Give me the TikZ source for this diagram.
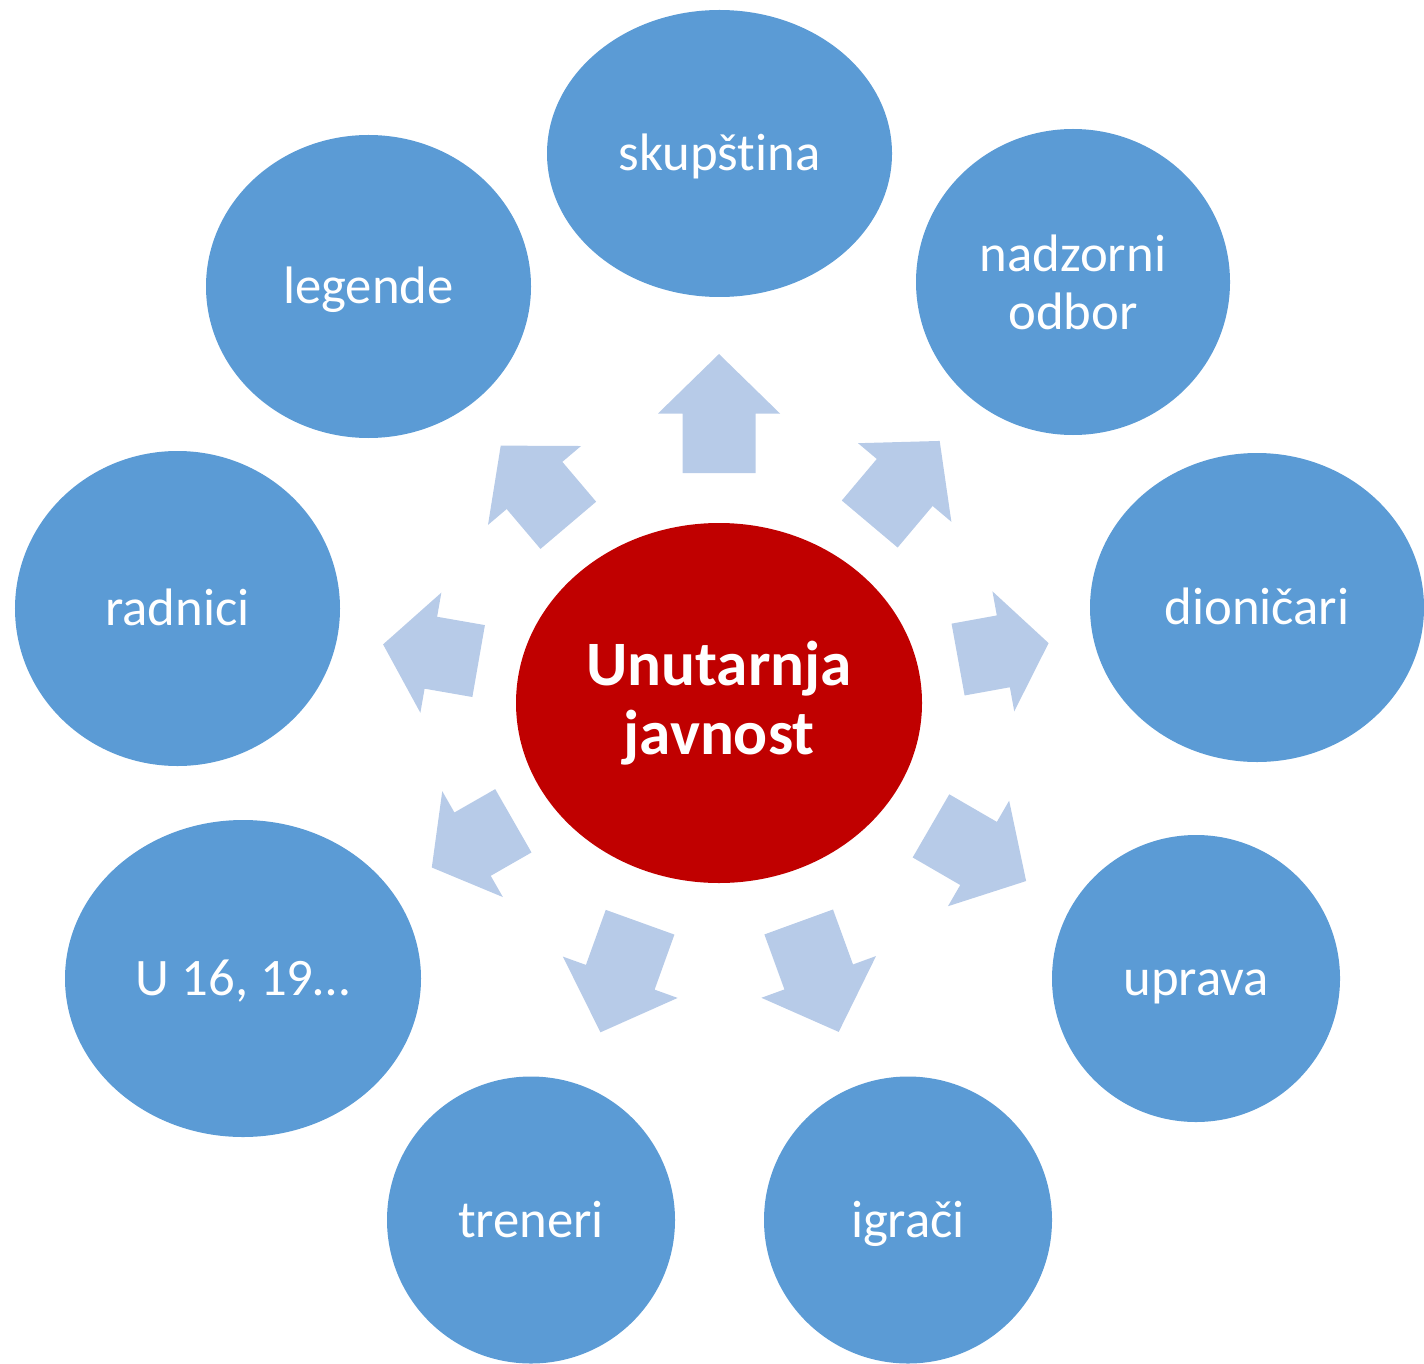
\documentclass[tikz,border=0pt]{standalone}
\usepackage{fontspec}
\setmainfont[Ligatures=NoCommon]{Carlito}
\usetikzlibrary{shapes.geometric}
\definecolor{bubbleblue}{HTML}{5B9BD5}
\definecolor{corered}{HTML}{C00000}
\definecolor{arrowblue}{HTML}{B7CBE8}
\tikzset{
  bubble/.style={ellipse, fill=bubbleblue, text=white, inner sep=0pt, align=center,
    font=\fontsize{15}{16.5}\selectfont},
  oneline/.style={bubble, text height=12.5pt, text depth=2.8pt},
  core/.style={ellipse, fill=corered, text=white, inner sep=0pt, align=center,
    font=\fontsize{18}{19.6}\selectfont\bfseries},
  blockarrow/.style={fill=arrowblue}
}
\begin{document}
\begin{tikzpicture}
    \useasboundingbox (0,0) rectangle (14.24,-13.63);

    % radial arrows: angle / distance from centre / length
    \foreach \a/\d/\l in {90/2.30/1.19, 49.9/2.34/1.086, 10.3/2.43/0.92,
                          -30.1/2.45/1.10, -70/2.33/1.17, -109.8/2.33/1.17,
                          -150.2/2.37/0.94, 170.1/2.44/0.97, 130.3/2.33/1.045}
    {
        \begin{scope}[shift={(7.19,-7.03)}, rotate=\a]
            \fill[blockarrow] (\d,-0.365) -- ({\d+\l/2},-0.365) -- ({\d+\l/2},-0.61)
                -- ({\d+\l},0) -- ({\d+\l/2},0.61) -- ({\d+\l/2},0.365) -- (\d,0.365) -- cycle;
        \end{scope}
    }

    \node[core, minimum width=4.06cm, minimum height=3.60cm] (centre) at (7.19,-7.03) {Unutarnja\\javnost};

    \node[oneline, minimum width=3.45cm, minimum height=2.87cm] (skupstina) at (7.195,-1.535) {skupština};
    \node[bubble, minimum width=3.14cm, minimum height=3.06cm] (nadzorni) at (10.73,-2.82) {nadzorni\\odbor};
    \node[oneline, minimum width=3.34cm, minimum height=3.09cm] (dionicari) at (12.57,-6.075) {dioničari};
    \node[oneline, minimum width=2.88cm, minimum height=2.87cm] (uprava) at (11.96,-9.785) {uprava};
    \node[oneline, minimum width=2.88cm, minimum height=2.87cm] (igraci) at (9.08,-12.20) {igrači};
    \node[oneline, minimum width=2.88cm, minimum height=2.87cm] (treneri) at (5.31,-12.20) {treneri};
    \node[oneline, minimum width=3.56cm, minimum height=3.17cm] (mladi) at (2.43,-9.785) {U 16, 19…};
    \node[oneline, minimum width=3.25cm, minimum height=3.15cm] (radnici) at (1.775,-6.085) {radnici};
    \node[oneline, minimum width=3.25cm, minimum height=3.03cm] (legende) at (3.685,-2.865) {legende};
\end{tikzpicture}
\end{document}
